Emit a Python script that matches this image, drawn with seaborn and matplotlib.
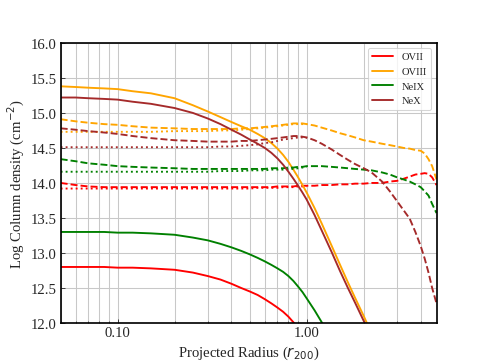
import matplotlib
matplotlib.use("Agg")
import matplotlib.pyplot as plt
import numpy as np
import seaborn as sns
from matplotlib.ticker import FixedLocator, FixedFormatter, NullFormatter, LogLocator

nan = np.nan

# projected radius (r200)
radius = [0.05, 0.06, 0.07, 0.085, 0.1, 0.12, 0.15, 0.2, 0.25, 0.3, 0.35, 0.4, 0.45, 0.5, 0.55,
          0.6, 0.65, 0.7, 0.75, 0.8, 0.85, 0.9, 0.95, 1.0, 1.1, 1.2, 1.35, 1.5, 1.65, 1.8, 2.0,
          2.2, 2.5, 2.75, 3.0, 3.25, 3.5, 3.75, 4.0, 4.2, 4.4, 4.6, 4.85]

# solid lines
ovii_solid = [12.80, 12.80, 12.80, 12.80, 12.79, 12.79, 12.78, 12.76, 12.72, 12.67, 12.62, 12.56, 12.50,
              12.45, 12.40, 12.34, 12.28, 12.22, 12.16, 12.09, 12.01, 11.93, 11.84, 11.75, 11.54, 11.32,
              nan, nan, nan, nan, nan, nan, nan, nan, nan, nan, nan, nan, nan, nan, nan, nan, nan]
oviii_solid = [15.38, 15.37, 15.36, 15.35, 15.34, 15.31, 15.28, 15.21, 15.11, 15.02, 14.94, 14.87, 14.81,
               14.76, 14.70, 14.64, 14.57, 14.49, 14.40, 14.30, 14.19, 14.08, 13.97, 13.86, 13.64, 13.42,
               13.11, 12.83, 12.58, 12.36, 12.10, 11.85, nan, nan, nan, nan, nan, nan, nan, nan, nan,
               nan, nan]
neix_solid = [13.30, 13.30, 13.30, 13.30, 13.29, 13.29, 13.28, 13.26, 13.22, 13.18, 13.13, 13.08, 13.03,
              12.98, 12.93, 12.88, 12.83, 12.78, 12.73, 12.67, 12.60, 12.52, 12.44, 12.35, 12.18, 12.01,
              11.75, nan, nan, nan, nan, nan, nan, nan, nan, nan, nan, nan, nan, nan, nan, nan, nan]
nex_solid = [15.22, 15.22, 15.21, 15.20, 15.19, 15.16, 15.13, 15.07, 15.00, 14.92, 14.84, 14.76, 14.69,
             14.62, 14.56, 14.50, 14.43, 14.35, 14.26, 14.16, 14.06, 13.96, 13.86, 13.76, 13.54, 13.32,
             13.02, 12.74, 12.50, 12.29, 12.03, 11.78, nan, nan, nan, nan, nan, nan, nan, nan, nan,
             nan, nan]

# dashed lines
ovii_dashed = [14.00, 13.97, 13.95, 13.94, 13.94, 13.94, 13.94, 13.94, 13.94, 13.94, 13.94, 13.94, 13.94,
               13.94, 13.94, 13.94, 13.94, 13.95, 13.95, 13.95, 13.95, 13.96, 13.96, 13.96, 13.96, 13.97,
               13.97, 13.98, 13.98, 13.99, 13.99, 14.00, 14.00, 14.02, 14.03, 14.06, 14.09, 14.12, 14.13,
               14.14, 14.13, 14.08, 13.97]
oviii_dashed = [14.91, 14.88, 14.86, 14.84, 14.83, 14.81, 14.79, 14.78, 14.77, 14.77, 14.77, 14.77, 14.78,
                14.78, 14.79, 14.80, 14.81, 14.82, 14.83, 14.84, 14.85, 14.85, 14.85, 14.84, 14.82, 14.79,
                14.75, 14.71, 14.68, 14.65, 14.61, 14.59, 14.56, 14.54, 14.52, 14.50, 14.49, 14.47, 14.46,
                14.42, 14.34, 14.24, 14.05]
neix_dashed = [14.34, 14.31, 14.28, 14.26, 14.24, 14.23, 14.22, 14.21, 14.20, 14.20, 14.20, 14.20, 14.20,
               14.20, 14.20, 14.20, 14.21, 14.21, 14.21, 14.22, 14.22, 14.23, 14.23, 14.24, 14.24, 14.24,
               14.23, 14.22, 14.21, 14.20, 14.19, 14.18, 14.15, 14.12, 14.08, 14.05, 14.02, 13.98, 13.94,
               13.88, 13.82, 13.70, 13.57]
nex_dashed = [14.78, 14.76, 14.74, 14.72, 14.70, 14.67, 14.64, 14.61, 14.60, 14.59, 14.59, 14.59, 14.60,
              14.60, 14.61, 14.62, 14.63, 14.64, 14.65, 14.66, 14.67, 14.67, 14.66, 14.65, 14.61, 14.56,
              14.48, 14.40, 14.33, 14.27, 14.21, 14.15, 14.02, 13.88, 13.74, 13.61, 13.49, 13.30, 13.10,
              12.92, 12.72, 12.50, 12.28]

# dotted lines (inner radii only)
ovii_dotted = [13.92, 13.92, 13.92, 13.92, 13.92, 13.92, 13.92, 13.92, 13.92, 13.92, 13.92, 13.92, 13.92,
               13.92, 13.93, 13.93, 13.93, 13.93, 13.94, 13.94, 13.94, 13.95, 13.95, 13.95,
               nan, nan, nan, nan, nan, nan, nan, nan, nan, nan, nan, nan, nan, nan, nan, nan, nan, nan, nan]
oviii_dotted = [14.73, 14.73, 14.73, 14.73, 14.73, 14.73, 14.73, 14.74, 14.74, 14.74, 14.75, 14.75, 14.76,
                14.77, 14.78, 14.79, 14.80, 14.81, 14.82, 14.83, 14.84, 14.84, 14.84, 14.84,
                nan, nan, nan, nan, nan, nan, nan, nan, nan, nan, nan, nan, nan, nan, nan, nan, nan, nan, nan]
neix_dotted = [14.16, 14.16, 14.16, 14.16, 14.16, 14.16, 14.16, 14.16, 14.16, 14.16, 14.17, 14.17, 14.17,
               14.18, 14.18, 14.18, 14.19, 14.19, 14.19, 14.20, 14.20, 14.21, 14.22, 14.23,
               nan, nan, nan, nan, nan, nan, nan, nan, nan, nan, nan, nan, nan, nan, nan, nan, nan, nan, nan]
nex_dotted = [14.51, 14.51, 14.51, 14.51, 14.51, 14.51, 14.51, 14.51, 14.51, 14.51, 14.52, 14.52, 14.53,
              14.54, 14.55, 14.57, 14.58, 14.60, 14.62, 14.63, 14.64, 14.65, 14.65, 14.64,
              nan, nan, nan, nan, nan, nan, nan, nan, nan, nan, nan, nan, nan, nan, nan, nan, nan, nan, nan]

ions = ["OVII", "OVIII", "NeIX", "NeX"]
colors = ["red", "orange", "green", "brown"]
solid = [ovii_solid, oviii_solid, neix_solid, nex_solid]
dashed = [ovii_dashed, oviii_dashed, neix_dashed, nex_dashed]
dotted = [ovii_dotted, oviii_dotted, neix_dotted, nex_dotted]

sns.set_style("ticks")
plt.rcParams["font.family"] = ["Liberation Serif", "DejaVu Serif"]
plt.rcParams["mathtext.fontset"] = "dejavusans"

fig, ax = plt.subplots(figsize=(6.4, 4.8), dpi=485 / 6.4)
r = np.array(radius)
for ion, c, s, d, o in zip(ions, colors, solid, dashed, dotted):
    sns.lineplot(x=r, y=np.array(s), color=c, lw=1.8, label=ion, ax=ax)
    sns.lineplot(x=r, y=np.array(d), color=c, lw=1.8, linestyle="--", legend=False, ax=ax)
    sns.lineplot(x=r, y=np.array(o), color=c, lw=1.8, linestyle=":", legend=False, ax=ax)

ax.set_xscale("log")
ax.set_xlim(0.05, 4.85)
ax.set_ylim(12.0, 16.0)
ax.xaxis.set_major_locator(FixedLocator([0.1, 1.0]))
ax.xaxis.set_major_formatter(FixedFormatter(["0.10", "1.00"]))
ax.xaxis.set_minor_locator(LogLocator(base=10, subs=np.arange(2, 10)))
ax.xaxis.set_minor_formatter(NullFormatter())
yt = np.arange(12.0, 16.01, 0.5)
ax.set_yticks(yt)
ax.set_yticklabels([f"{v:.1f}" for v in yt])
ax.grid(True, which="both", axis="x", color="#c8c8c8", lw=1)
ax.grid(True, which="major", axis="y", color="#c8c8c8", lw=1)
ax.set_axisbelow(True)
ax.tick_params(which="both", direction="in", labelsize=14)
for sp in ax.spines.values():
    sp.set_color("black")
    sp.set_linewidth(1.6)

ax.set_xlabel("Projected Radius ($r_{200}$)", fontsize=14)
ax.set_ylabel("Log Column density (cm$^{-2}$)", fontsize=14)
ax.legend(loc="upper right", fontsize=10, handlelength=2.0)

fig.subplots_adjust(left=0.125, right=0.9, bottom=0.11, top=0.88)
fig.savefig("out.png", dpi=485 / 6.4)
